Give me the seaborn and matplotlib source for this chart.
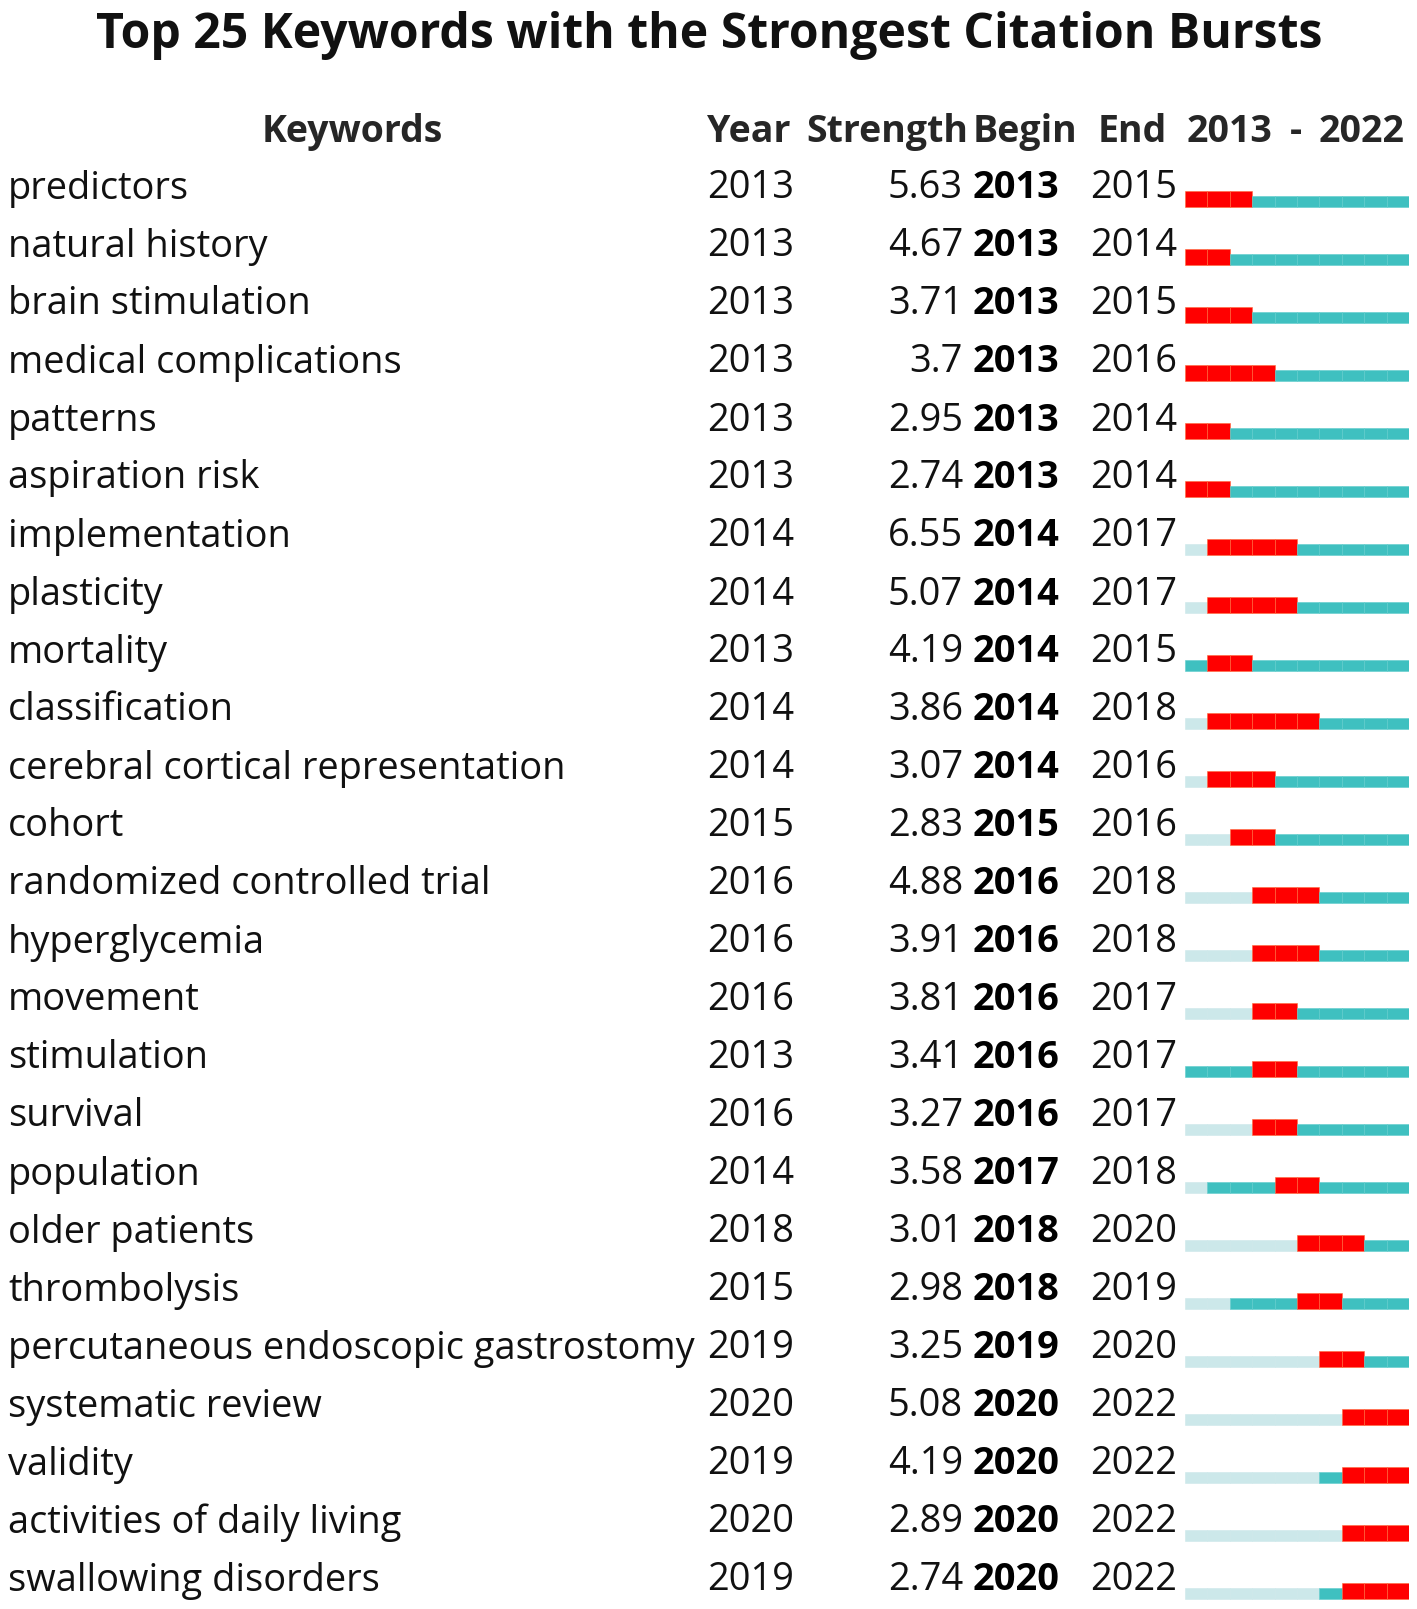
import matplotlib
matplotlib.use("Agg")
import matplotlib.pyplot as plt
import seaborn as sns
import pandas as pd

keywords = ["predictors", "natural history", "brain stimulation", "medical complications",
            "patterns", "aspiration risk", "implementation", "plasticity", "mortality",
            "classification", "cerebral cortical representation", "cohort",
            "randomized controlled trial", "hyperglycemia", "movement", "stimulation",
            "survival", "population", "older patients", "thrombolysis",
            "percutaneous endoscopic gastrostomy", "systematic review", "validity",
            "activities of daily living", "swallowing disorders"]
years = [2013, 2013, 2013, 2013, 2013, 2013, 2014, 2014, 2013, 2014, 2014, 2015, 2016,
         2016, 2016, 2013, 2016, 2014, 2018, 2015, 2019, 2020, 2019, 2020, 2019]
strengths = ["5.63", "4.67", "3.71", "3.7", "2.95", "2.74", "6.55", "5.07", "4.19", "3.86",
             "3.07", "2.83", "4.88", "3.91", "3.81", "3.41", "3.27", "3.58", "3.01", "2.98",
             "3.25", "5.08", "4.19", "2.89", "2.74"]
begins = [2013, 2013, 2013, 2013, 2013, 2013, 2014, 2014, 2014, 2014, 2014, 2015, 2016,
          2016, 2016, 2016, 2016, 2017, 2018, 2018, 2019, 2020, 2020, 2020, 2020]
ends = [2015, 2014, 2015, 2016, 2014, 2014, 2017, 2017, 2015, 2018, 2016, 2016, 2018,
        2018, 2017, 2017, 2017, 2018, 2020, 2019, 2020, 2022, 2022, 2022, 2022]
span_start, span_end = 2013, 2022

df = pd.DataFrame({"Keywords": keywords, "Year": years, "Strength": strengths,
                   "Begin": begins, "End": ends})

sns.set_theme(style="white")
FONT = ["Open Sans", "DejaVu Sans"]
plt.rcParams["font.family"] = FONT

W, H = 1417, 1609
fig = plt.figure(figsize=(W / 100, H / 100), dpi=100)

def fx(px):
    return px / W

def fy(py):
    return 1 - py / H

base0, dy = 198.5, 58.0
fs = 27.4
hfs = 27.0
col_light, col_teal, col_red = "#cce8ea", "#3fc0c0", "#ff0000"

fig.text(fx(709.5), fy(48), "Top 25 Keywords with the Strongest Citation Bursts",
         ha="center", va="baseline", fontsize=34.7, fontweight="bold", color="#111111")

hy = 142
fig.text(fx(352), fy(hy), "Keywords", ha="center", va="baseline", fontsize=hfs, fontweight="bold")
fig.text(fx(707), fy(hy), "Year", ha="left", va="baseline", fontsize=hfs, fontweight="bold")
fig.text(fx(968), fy(hy), "Strength", ha="right", va="baseline", fontsize=hfs, fontweight="bold")
fig.text(fx(973), fy(hy), "Begin", ha="left", va="baseline", fontsize=hfs, fontweight="bold")
fig.text(fx(1098), fy(hy), "End", ha="left", va="baseline", fontsize=hfs, fontweight="bold")
fig.text(fx(1187), fy(hy), str(span_start), ha="left", va="baseline", fontsize=hfs, fontweight="bold")
fig.text(fx(1296), fy(hy), "-", ha="center", va="baseline", fontsize=hfs, fontweight="bold")
fig.text(fx(1405), fy(hy), str(span_end), ha="right", va="baseline", fontsize=hfs, fontweight="bold")

for i, r in df.iterrows():
    y = fy(base0 + dy * i)
    fig.text(fx(8), y, r["Keywords"], ha="left", va="baseline", fontsize=fs, color="#111111")
    fig.text(fx(707), y, str(r["Year"]), ha="left", va="baseline", fontsize=fs, color="#111111")
    fig.text(fx(963), y, r["Strength"], ha="right", va="baseline", fontsize=fs, color="#111111")
    fig.text(fx(973), y, str(r["Begin"]), ha="left", va="baseline", fontsize=fs,
             fontweight="bold", color="#000000")
    fig.text(fx(1090), y, str(r["End"]), ha="left", va="baseline", fontsize=fs, color="#111111")

# bar axes: x in years, y in rows (row i baseline at base0 + dy*i pixels)
ax = fig.add_axes([fx(1185), 0, (1409 - 1185) / W, 1])
ax.set_xlim(span_start, span_end + 1)
ax.set_ylim((H - base0) / dy, -base0 / dy)
ax.axis("off")

bottom = 8.5 / dy
h_thin = 11 / dy
h_red = 16 / dy
for i, r in df.iterrows():
    for yr in range(span_start, span_end + 1):
        if r["Begin"] <= yr <= r["End"]:
            c, h, ec = col_red, h_red, "#ff6a3a"
        elif yr >= r["Year"]:
            c, h, ec = col_teal, h_thin, "#5fcccc"
        else:
            c, h, ec = col_light, h_thin, col_light
        ax.barh(i + bottom - h / 2, 1, left=yr, height=h, color=c, edgecolor=ec,
                linewidth=0.4, align="center")

fig.savefig("out.png", dpi=100)
